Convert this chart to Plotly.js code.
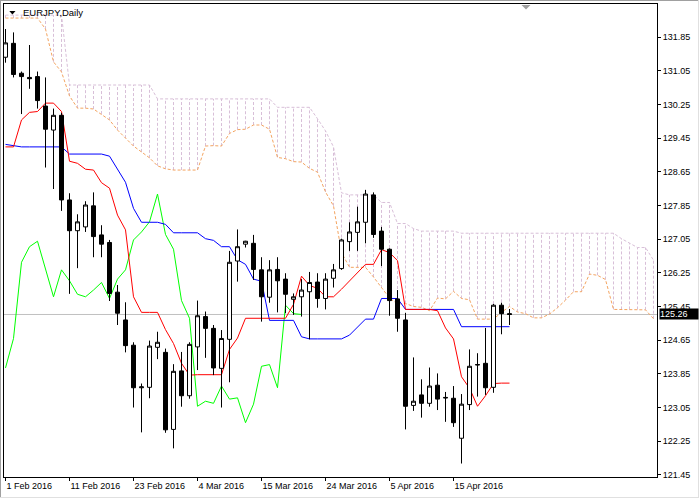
<!DOCTYPE html>
<html>
<head>
<meta charset="utf-8">
<script src="https://cdn.plot.ly/plotly-3.0.1.min.js"></script>
<style>html,body{margin:0;padding:0;background:#fff;}#chart{width:700px;height:500px;}</style>
</head>
<body>
<div id="chart"></div>
<script>
// ---- data (EURJPY, Daily) ----
const open = [131.37,131.70,130.99,130.89,130.91,130.21,129.64,129.99,127.98,127.25,
127.34,127.84,127.15,126.97,125.79,125.13,124.53,123.52,123.53,124.48,
124.36,122.53,123.92,123.33,124.49,125.21,124.93,123.98,124.67,126.53,
126.93,126.95,126.32,125.67,126.33,126.10,125.62,125.68,125.80,126.03,
125.64,126.12,126.35,126.99,127.21,127.45,128.10,127.24,126.81,125.63,
125.13,123.10,123.35,123.15,123.58,123.29,123.27,122.32,123.12,124.06,
124.10,123.53,125.48,125.28];
const high = [132.04,131.96,131.03,131.66,131.03,130.89,130.15,130.05,128.14,127.64,
127.95,128.16,127.38,127.03,125.96,125.55,124.60,123.62,124.64,124.85,
124.45,124.08,124.37,124.60,125.59,125.33,125.01,124.89,126.77,127.28,
127.01,127.15,126.62,126.55,126.62,126.24,125.76,126.10,126.27,126.24,
126.24,126.46,127.06,127.45,127.82,128.22,128.16,127.34,126.83,125.84,
125.30,124.24,123.72,124.00,123.86,123.42,123.56,123.37,124.43,124.34,
124.94,125.51,125.54,125.39];
const low = [131.24,130.89,130.02,130.62,130.15,128.75,128.24,127.72,125.75,126.36,
127.22,126.62,126.62,125.58,125.01,124.36,123.05,122.46,123.27,124.20,
122.45,122.08,123.07,123.26,123.94,124.23,123.82,123.05,123.65,126.04,
126.85,126.08,125.09,125.54,125.31,125.29,125.25,125.21,124.67,125.42,
125.38,125.90,126.32,126.77,126.77,126.95,127.08,126.41,125.23,124.85,
122.53,122.97,122.81,123.07,122.99,122.71,122.59,121.72,122.99,123.31,
123.35,123.40,124.79,125.01];
const close = [131.71,130.96,130.91,130.86,130.34,129.66,129.99,127.98,127.25,127.46,
127.86,127.11,126.93,125.76,125.29,124.52,123.52,123.54,124.51,124.60,
122.52,123.91,123.33,124.55,125.23,124.93,123.99,124.69,126.50,126.87,
127.00,126.33,125.68,126.32,126.06,125.74,125.68,125.84,126.02,125.64,
126.10,126.32,127.03,127.22,127.46,128.12,127.16,126.81,125.59,125.17,
123.08,123.20,123.15,123.56,123.25,123.28,122.69,123.13,124.03,124.07,
123.52,125.48,125.28,125.26];

// Ichimoku lines
const tenkan = [129.24,129.24,129.88,130.06,130.08,130.28,130.28,130.08,128.90,128.85,
128.71,128.69,128.39,128.26,127.62,127.27,125.68,125.31,125.31,125.31,
124.90,124.57,124.10,123.82,123.83,123.83,123.83,123.83,124.43,124.70,
125.17,125.17,125.17,125.17,125.17,125.17,125.50,126.17,125.95,125.88,
125.68,125.68,125.86,126.06,126.25,126.45,126.45,126.80,126.73,126.54,
125.38,125.38,125.38,125.38,125.35,124.94,124.68,123.78,123.51,123.08,
123.33,123.62,123.63,123.63];
const kijun = [129.30,129.27,129.24,129.24,129.24,129.24,129.24,129.24,129.07,129.07,
129.07,129.07,129.07,129.02,128.72,128.40,127.78,127.45,127.45,127.45,
127.40,127.20,127.20,127.20,127.20,127.06,127.02,126.87,126.87,126.56,
126.45,126.10,126.05,125.12,125.12,125.12,125.12,124.73,124.68,124.68,
124.68,124.68,124.68,124.77,124.95,125.15,125.15,125.64,125.64,125.64,
125.38,125.38,125.38,125.38,125.38,125.38,125.38,124.97,124.97,124.97,
124.97,124.97,124.97,124.97];
const spanA = [132.30,132.30,132.30,132.30,132.30,132.04,131.26,131.02,130.45,130.16,
130.16,130.14,130.02,129.88,129.64,129.45,129.26,129.12,128.98,128.79,
128.72,128.69,128.69,128.69,128.69,129.26,129.27,129.26,129.56,129.65,
129.66,129.76,129.76,129.66,128.99,128.96,128.89,128.88,128.73,128.64,
128.17,127.84,126.73,126.38,126.38,126.38,126.15,125.89,125.65,125.51,
125.52,125.45,125.43,125.35,125.65,125.63,125.81,125.64,125.61,125.15,
125.15,125.15,125.31,125.45,125.32,125.28,125.18,125.18,125.27,125.42,
125.60,125.80,125.80,126.22,126.19,126.09,125.38,125.38,125.38,125.38,
125.37,125.16];
const spanB = [132.37,132.37,132.37,132.37,132.37,132.37,132.37,132.37,130.71,130.71,
130.71,130.71,130.71,130.71,130.71,130.71,130.71,130.71,130.71,130.38,
130.38,130.38,130.38,130.38,130.38,130.38,130.38,130.38,130.38,130.38,
130.38,130.38,130.38,130.38,130.18,130.18,130.18,130.18,130.18,129.91,
129.62,129.24,128.15,128.10,128.10,128.10,128.10,127.92,127.92,127.42,
127.42,127.30,127.24,127.24,127.24,127.24,127.24,127.19,127.19,127.19,
127.19,127.19,127.19,127.19,127.19,127.19,127.19,127.19,127.19,127.19,
127.19,127.19,127.19,127.19,127.19,127.19,127.19,127.06,126.95,126.85,
126.85,126.55];
const chikouShift = 26;
const lastPrice = 125.26;

const tickBars = [0, 8, 16, 24, 32, 40, 48, 56];
const tickLabels = ['1 Feb 2016','11 Feb 2016','23 Feb 2016','4 Mar 2016','15 Mar 2016','24 Mar 2016','5 Apr 2016','15 Apr 2016'];
const yTicks = [121.45,122.25,123.05,123.85,124.65,125.45,126.25,127.05,127.85,128.65,129.45,130.25,131.05,131.85];

// ---- build traces ----
const xb = close.map((_, i) => i);
const xc = spanA.map((_, i) => i);
const chikou = close.slice(chikouShift);
const xk = chikou.map((_, i) => i);

// cloud hatch: vertical segments between span A and span B at each bar
const hx = [], hy = [];
xc.forEach(i => { hx.push(i, i, null); hy.push(spanA[i], spanB[i], null); });

const FONT = 'Liberation Sans, Arial, sans-serif';
const XR = [-0.1875, 81.4375];
const YR = [121.40, 132.634];

const traces = [
  {type:'scatter', mode:'lines', x:hx, y:hy, line:{color:'#d8bfd8', width:1, dash:'3px,2px'}, hoverinfo:'skip', connectgaps:false},
  {type:'scatter', mode:'lines', x:xc, y:spanB, line:{color:'#d8bfd8', width:1, dash:'3px,2px'}},
  {type:'scatter', mode:'lines', x:xc, y:spanA, line:{color:'#f4a460', width:1, dash:'3px,2px'}},
  {type:'scatter', mode:'lines', x:xk, y:chikou, line:{color:'#00ff00', width:1}},
  {type:'scatter', mode:'lines', x:xb, y:kijun, line:{color:'#0000ff', width:1}},
  {type:'scatter', mode:'lines', x:xb, y:tenkan, line:{color:'#ff0000', width:1}},
  {type:'candlestick', xaxis:'x2', yaxis:'y2', x:xb, open:open, high:high, low:low, close:close,
   increasing:{line:{color:'#000000', width:1}, fillcolor:'#ffffff'},
   decreasing:{line:{color:'#000000', width:1}, fillcolor:'#000000'},
   whiskerwidth:0}
];

const px2x = p => (p - 4) / 653;
const py2y = p => 1 - (p - 4) / 473;

const layout = {
  width:700, height:500,
  margin:{l:4, r:43, t:4, b:23, pad:0},
  paper_bgcolor:'#ffffff', plot_bgcolor:'#ffffff',
  showlegend:false,
  boxgap:0.2857142857, boxgroupgap:0.3,
  font:{family:FONT, size:9, color:'#000000'},
  xaxis:{
    range:XR, showgrid:false, zeroline:false,
    showline:true, mirror:true, linecolor:'#000000', linewidth:1,
    ticks:'outside', ticklen:3, tickcolor:'#000000', tickwidth:1,
    tickvals:tickBars, ticktext:tickLabels, ticklabelposition:'outside right',
    tickfont:{family:FONT, size:9, color:'#000000'},
    rangeslider:{visible:false}, fixedrange:true
  },
  yaxis:{
    range:YR, side:'right', showgrid:false, zeroline:false,
    showline:true, mirror:true, linecolor:'#000000', linewidth:1,
    ticks:'outside', ticklen:3, tickcolor:'#000000', tickwidth:1,
    tickvals:yTicks, ticktext:yTicks.map(v => v.toFixed(2)),
    tickfont:{family:FONT, size:9, color:'#000000'}, fixedrange:true
  },
  xaxis2:{overlaying:'x', range:XR, visible:false, showgrid:false, zeroline:false, rangeslider:{visible:false}, fixedrange:true},
  yaxis2:{overlaying:'y', range:YR, visible:false, side:'right', showgrid:false, zeroline:false, fixedrange:true},
  shapes:[
    {type:'line', xref:'paper', x0:0, x1:1, yref:'y', y0:lastPrice, y1:lastPrice, line:{color:'#c0c0c0', width:1}, layer:'below'},
    {type:'path', xref:'paper', yref:'paper', path:`M ${px2x(9.3)} ${py2y(11)} L ${px2x(15.5)} ${py2y(11)} L ${px2x(12.4)} ${py2y(14.5)} Z`, fillcolor:'#000000', line:{width:0}},
    {type:'path', xref:'paper', yref:'paper', path:`M ${px2x(521.5)} ${py2y(5)} L ${px2x(530.5)} ${py2y(5)} L ${px2x(526)} ${py2y(9.5)} Z`, fillcolor:'#a0a0a0', line:{width:0}},
    {type:'line', xref:'paper', yref:'paper', x0:px2x(0), x1:px2x(699), y0:py2y(0.5), y1:py2y(0.5), line:{color:'#a0a0a0', width:1}},
    {type:'line', xref:'paper', yref:'paper', x0:px2x(0.5), x1:px2x(0.5), y0:py2y(0), y1:py2y(498), line:{color:'#a0a0a0', width:1}},
    {type:'line', xref:'paper', yref:'paper', x0:px2x(698.5), x1:px2x(698.5), y0:py2y(0), y1:py2y(498), line:{color:'#e0e0e0', width:1}},
    {type:'line', xref:'paper', yref:'paper', x0:px2x(0), x1:px2x(699), y0:py2y(497.5), y1:py2y(497.5), line:{color:'#e0e0e0', width:1}}
  ],
  annotations:[
    {xref:'paper', yref:'paper', x:px2x(20.5), y:py2y(12.5), xanchor:'left', yanchor:'middle', showarrow:false,
     text:'EURJPY,Daily', font:{family:FONT, size:9.5, color:'#000000'}},
    {xref:'paper', yref:'y', x:1, y:lastPrice, xanchor:'left', yanchor:'middle', xshift:2, yshift:0, showarrow:false,
     text:lastPrice.toFixed(2), bgcolor:'#000000', borderpad:0, width:38, height:10, align:'left',
     font:{family:FONT, size:9, color:'#ffffff'}}
  ]
};

Plotly.newPlot('chart', traces, layout, {staticPlot:true, displayModeBar:false});
</script>
</body>
</html>
